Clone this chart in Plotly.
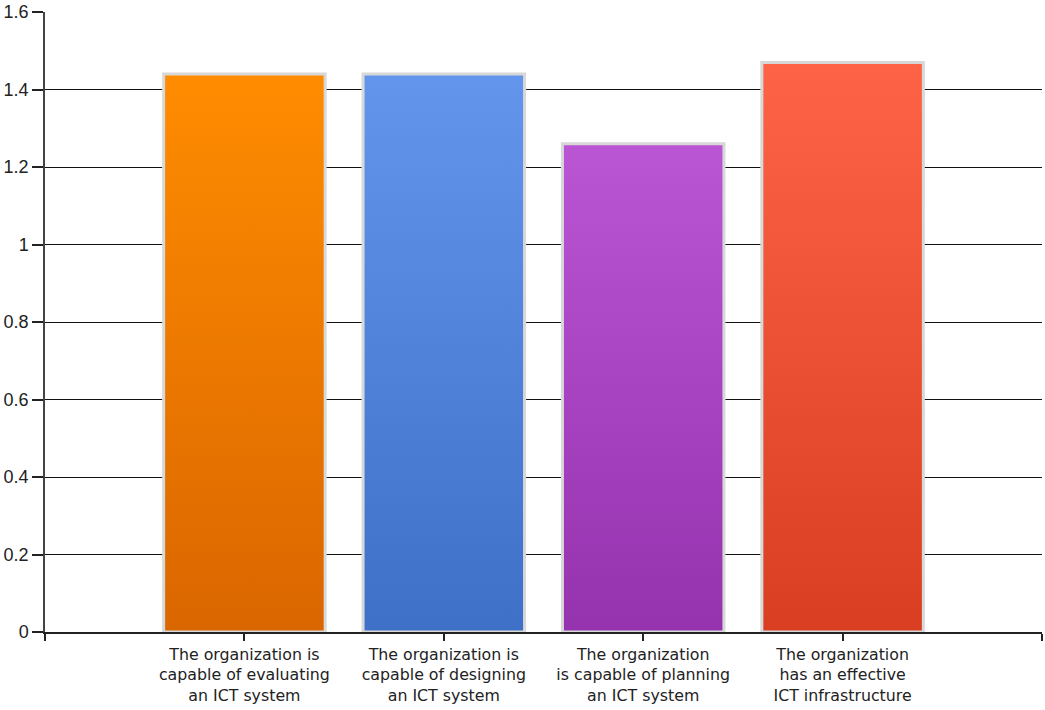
import plotly.graph_objects as go

categories = [
    "The organization is<br>capable of evaluating<br>an ICT system",
    "The organization is<br>capable of designing<br>an ICT system",
    "The organization<br>is capable of planning<br>an ICT system",
    "The organization<br>has an effective<br>ICT infrastructure",
]
values = [1.44, 1.44, 1.26, 1.47]
top_colors = ["#FF8C00", "#6495ED", "#BA55D3", "#FF6347"]
bottom_colors = ["#DA6600", "#3F70C8", "#9532AE", "#DA3E22"]

BAR_W = 0.81
fig = go.Figure()
for i, (v, ct, cb) in enumerate(zip(values, top_colors, bottom_colors)):
    x0, x1 = i - BAR_W / 2, i + BAR_W / 2
    fig.add_trace(go.Scatter(
        x=[x0, x1, x1, x0, x0],
        y=[0, 0, v, v, 0],
        mode="lines",
        fill="toself",
        fillgradient=dict(type="vertical", start=0, stop=v,
                          colorscale=[[0, cb], [1, ct]]),
        line=dict(color="#D8D8D8", width=3),
        hoverinfo="skip",
        showlegend=False,
    ))

tickvals = [-1, 0, 1, 2, 3, 4]
ticktext = [""] + categories + [""]

fig.update_layout(
    width=1045, height=710,
    margin=dict(l=45, r=3, t=12, b=78),
    plot_bgcolor="white", paper_bgcolor="white",
    font=dict(family="DejaVu Sans, Verdana, sans-serif", size=15, color="#222222"),
    xaxis=dict(
        range=[-1, 4], tickmode="array", tickvals=tickvals, ticktext=ticktext,
        showgrid=False, zeroline=False,
        showline=True, linecolor="#222222", linewidth=1.5,
        ticks="outside", ticklen=7, tickcolor="#222222", tickwidth=1.5,
        tickfont=dict(size=15.8),
    ),
    yaxis=dict(
        range=[0, 1.6], dtick=0.2, tick0=0,
        showgrid=True, gridcolor="#111111", gridwidth=1.2,
        zeroline=False,
        showline=True, linecolor="#444444", linewidth=1.5,
        ticks="outside", ticklen=11, tickcolor="#222222", tickwidth=1.5,
        tickfont=dict(family="Liberation Sans, Arial, sans-serif", size=18),
    ),
)

fig.write_html("out.html")
